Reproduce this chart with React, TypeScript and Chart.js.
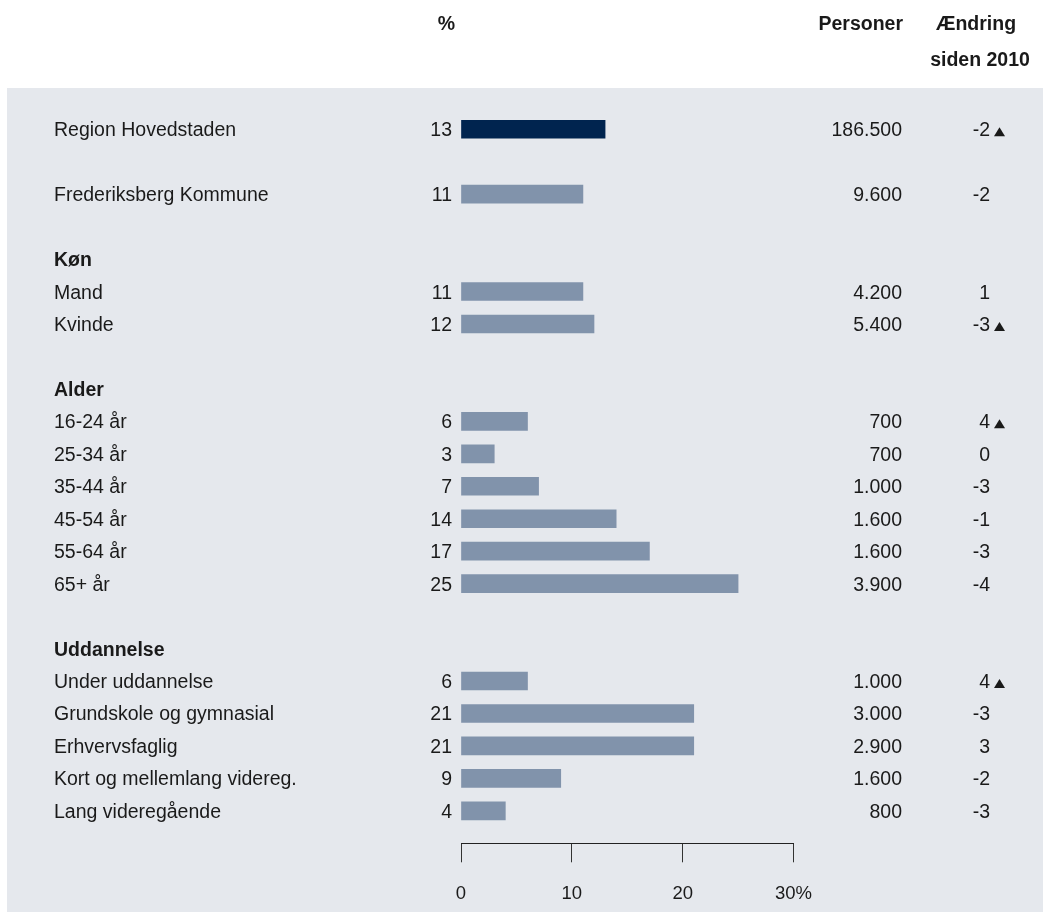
import React, { useEffect, useRef } from "react";
import { Chart, registerables } from "chart.js";

Chart.register(...registerables);

// One entry per table row; empty strings are spacer rows.
const rowLabels = [
  "Region Hovedstaden",
  "",
  "Frederiksberg Kommune",
  "",
  "Køn",
  "Mand",
  "Kvinde",
  "",
  "Alder",
  "16-24 år",
  "25-34 år",
  "35-44 år",
  "45-54 år",
  "55-64 år",
  "65+ år",
  "",
  "Uddannelse",
  "Under uddannelse",
  "Grundskole og gymnasial",
  "Erhvervsfaglig",
  "Kort og mellemlang videreg.",
  "Lang videregående",
];

const headingLabels = ["Køn", "Alder", "Uddannelse"];

const sharePct = [13, null, 11, null, null, 11, 12, null, null, 6, 3, 7, 14, 17, 25, null, null, 6, 21, 21, 9, 4];

const persons = [186500, null, 9600, null, null, 4200, 5400, null, null, 700, 700, 1000, 1600, 1600, 3900, null, null, 1000, 3000, 2900, 1600, 800];

const changeSince2010 = [-2, null, -2, null, null, 1, -3, null, null, 4, 0, -3, -1, -3, -4, null, null, 4, -3, 3, -2, -3];

const significantChange = [
  true, false, false, false, false, false, true, false, false, true, false,
  false, false, false, false, false, false, true, false, false, false, false,
];

const xTicks = [0, 10, 20, 30];

const FONT = '"Liberation Sans", Arial, sans-serif';
const TEXT = "#1a1a1a";
const PANEL = "#e5e8ed";
const BAR_MAIN = "#00244f";
const BAR_SUB = "#8193ab";

function formatThousands(n: number): string {
  const s = String(Math.abs(n));
  const out = s.replace(/\B(?=(\d{3})+(?!\d))/g, ".");
  return n < 0 ? "-" + out : out;
}

const tablePlugin = {
  id: "tableText",
  beforeDraw(chart: any) {
    const { ctx } = chart;
    ctx.save();
    ctx.fillStyle = PANEL;
    ctx.fillRect(7, 88, chart.width - 7, chart.height - 88);
    ctx.restore();
  },
  afterDraw(chart: any) {
    const { ctx } = chart;
    const y = chart.scales.y;
    ctx.save();
    ctx.fillStyle = TEXT;
    ctx.textBaseline = "alphabetic";

    // column headers
    ctx.font = `bold 19.5px ${FONT}`;
    ctx.textAlign = "right";
    ctx.fillText("%", 455, 30);
    ctx.fillText("Personer", 903, 30);
    ctx.textAlign = "center";
    ctx.fillText("Ændring", 976, 30);
    ctx.fillText("siden 2010", 980, 66);

    rowLabels.forEach((label, i) => {
      if (!label) return;
      const cy = y.getPixelForValue(i) + 7;
      const heading = headingLabels.includes(label);
      ctx.font = `${heading ? "bold " : ""}19.5px ${FONT}`;
      ctx.textAlign = "left";
      ctx.fillText(label, 54, cy);
      if (heading) return;
      ctx.font = `19.5px ${FONT}`;
      ctx.textAlign = "right";
      const pct = sharePct[i];
      if (pct !== null) ctx.fillText(String(pct), 452, cy);
      const p = persons[i];
      if (p !== null) ctx.fillText(formatThousands(p), 902, cy);
      const c = changeSince2010[i];
      if (c !== null) ctx.fillText(String(c), 990, cy);
      if (significantChange[i]) {
        ctx.beginPath();
        ctx.moveTo(994, cy);
        ctx.lineTo(1005, cy);
        ctx.lineTo(999.5, cy - 9);
        ctx.closePath();
        ctx.fill();
      }
    });
    ctx.restore();
  },
};

export default function App() {
  const canvasRef = useRef<HTMLCanvasElement | null>(null);

  useEffect(() => {
    const canvas = canvasRef.current;
    if (!canvas) return;

    const barPoints = sharePct
      .map((v, i) => (v === null ? null : { x: v, y: i }))
      .filter((p) => p !== null) as { x: number; y: number }[];

    const chart = new Chart(canvas, {
      type: "bar",
      data: {
        datasets: [
          {
            data: barPoints,
            backgroundColor: (c: any) => (c.raw && c.raw.y === 0 ? BAR_MAIN : BAR_SUB),
            barThickness: 18,
            borderWidth: 0,
          },
        ],
      },
      options: {
        animation: false,
        responsive: false,
        indexAxis: "y",
        layout: { padding: { left: 461, right: 249.5, top: 113, bottom: 8.7 } },
        plugins: { legend: { display: false }, tooltip: { enabled: false } },
        scales: {
          y: {
            type: "linear",
            reverse: true,
            min: -0.5,
            max: 22,
            offset: false,
            grid: { offset: false },
            display: false,
          },
          x: {
            type: "linear",
            position: "bottom",
            min: 0,
            max: 30,
            afterBuildTicks: (s: any) => {
              s.ticks = xTicks.map((v) => ({ value: v }));
            },
            afterFit: (s: any) => {
              s.height = 60;
            },
            grid: { drawOnChartArea: false, drawTicks: true, tickLength: 19, color: "#333", lineWidth: 1 },
            border: { display: true, color: "#222", width: 1 },
            ticks: {
              padding: 21,
              color: TEXT,
              font: { family: FONT, size: 18.5 },
              callback: (v: any) => (v === 30 ? "30%" : String(v)),
            },
          },
        },
      } as any,
      plugins: [tablePlugin],
    });

    return () => chart.destroy();
  }, []);

  return (
    <div style={{ position: "absolute", left: 0, top: 0, width: 1043, height: 912 }}>
      <canvas ref={canvasRef} width={1043} height={912} />
    </div>
  );
}
